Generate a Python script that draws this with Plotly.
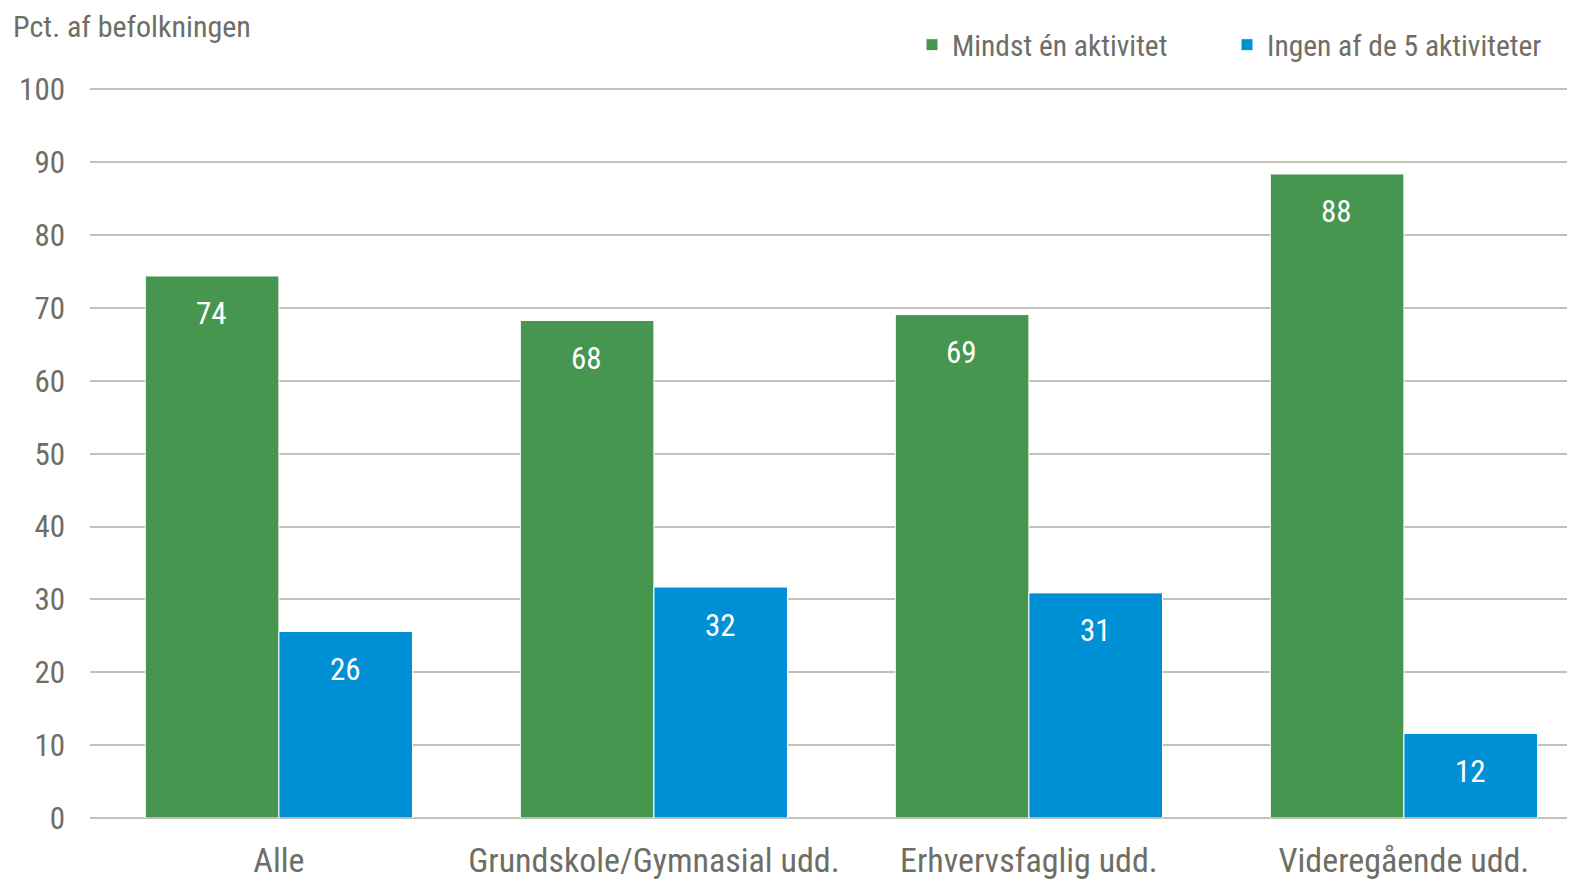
import plotly.graph_objects as go

categories = ["Alle", "Grundskole/Gymnasial udd.", "Erhvervsfaglig udd.", "Videregående udd."]
series_names = ["Mindst én aktivitet", "Ingen af de 5 aktiviteter"]
mindst = [74.4, 68.3, 69.1, 88.4]
ingen = [25.6, 31.7, 30.9, 11.6]
y_ticks = [0, 10, 20, 30, 40, 50, 60, 70, 80, 90, 100]
y_title = "Pct. af befolkningen"

colors = ["#47964F", "#0090D5"]
FONT = "Roboto Condensed, Liberation Sans Narrow, Arial Narrow, sans-serif"
GREY = "#6E6E66"
GRID = "#C2C1B6"

# page has an 8px body margin: lay out in window coords minus 8
OFF = 8
W, H = 1575 - OFF, 881 - OFF
ML, MR, MT, MB = 90 - OFF, 0, 88 - OFF, 881 - 818
PW, PH = W - ML - MR, H - MT - MB
CAT_PX = 375.0
X0 = -(279.3 - 90.4) / CAT_PX


def px_x(x):
    return (x - OFF - ML) / PW


def px_y(y):
    return (H - MB - (y - OFF)) / PH


fig = go.Figure()
for name, vals, col in zip(series_names, [mindst, ingen], colors):
    fig.add_trace(go.Bar(
        x=categories, y=vals, name=name,
        marker=dict(color=col, line=dict(color="#FFFFFF", width=1)),
        hoverinfo="x+y",
    ))

# value labels inside bars, near the top
bar_offsets = [-67.0, 67.0]
for vals, off in zip([mindst, ingen], bar_offsets):
    for c, v in zip(categories, vals):
        fig.add_annotation(
            x=c, y=v, xref="x", yref="y", text=f"{v:.0f}", showarrow=False,
            xshift=off, yshift=-38, yanchor="middle",
            font=dict(family=FONT, size=31, color="#FFFFFF"),
        )

fig.add_annotation(
    x=px_x(11), y=px_y(26), xref="paper", yref="paper", text=y_title, showarrow=False,
    xanchor="left", yanchor="middle",
    font=dict(family=FONT, size=30, color=GREY),
)

fig.update_layout(
    width=W, height=H,
    margin=dict(l=ML, r=MR, t=MT, b=MB, autoexpand=False),
    paper_bgcolor="white", plot_bgcolor="white",
    barmode="group", bargap=0.2875, bargroupgap=0.0,
    font=dict(family=FONT, size=29, color=GREY),
    showlegend=True,
    legend=dict(orientation="h", x=px_x(1542), xanchor="right", y=px_y(45), yanchor="middle",
                font=dict(family=FONT, size=29.5, color=GREY),
                entrywidth=270, entrywidthmode="pixels",
                traceorder="normal", bgcolor="rgba(0,0,0,0)"),
    xaxis=dict(range=[X0, X0 + PW / CAT_PX], showgrid=False, showline=False, zeroline=False,
               ticks="", tickfont=dict(family=FONT, size=34, color=GREY),
               ticklabelstandoff=19, fixedrange=True, automargin=False),
    yaxis=dict(range=[0, 100.2], tickvals=y_ticks, showgrid=True, gridcolor=GRID, gridwidth=2,
               zeroline=True, zerolinecolor=GRID, zerolinewidth=2, showline=False, ticks="",
               tickfont=dict(family=FONT, size=31, color=GREY), ticklabelstandoff=24,
               fixedrange=True, automargin=False),
)

fig.write_html("out.html")
